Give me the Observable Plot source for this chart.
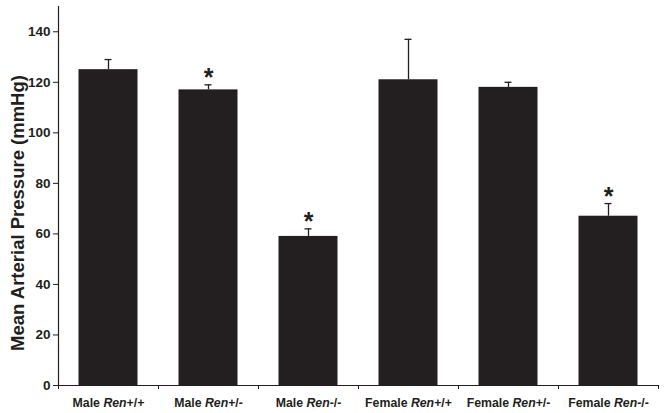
<!DOCTYPE html>
<html><head><meta charset="utf-8">
<script src="https://cdn.jsdelivr.net/npm/d3@7"></script>
<script src="https://cdn.jsdelivr.net/npm/@observablehq/plot@0.6"></script>
<style>body{margin:0;background:#fff} svg{display:block}</style>
</head><body><div id="chart"></div>
<script>
const sexes = ["Male", "Male", "Male", "Female", "Female", "Female"];
const genotypes = ["+/+", "+/-", "-/-", "+/+", "+/-", "-/-"];
const means = [125, 117, 59, 121, 118, 67];
const errors = [4, 2, 3, 16, 2, 5];
const significant = [false, true, true, false, false, true];
const yTicks = [0, 20, 40, 60, 80, 100, 120, 140];
const yLabel = "Mean Arterial Pressure (mmHg)";

const data = means.map((m, i) => ({i, sex: sexes[i], gen: genotypes[i], mean: m, err: errors[i], sig: significant[i]}));
const pad = 0.205;
const ink = "#231f20";

const chart = Plot.plot({
  width: 664, height: 413,
  marginLeft: 58, marginRight: 6, marginTop: 6, marginBottom: 28,
  style: {fontFamily: "'Liberation Sans', Arial, sans-serif", background: "#fff", color: ink},
  x: {domain: [0, data.length], axis: null},
  y: {domain: [0, 150], axis: null},
  marks: [
    Plot.rectY(data, {x1: d => d.i + pad, x2: d => d.i + 1 - pad, y1: 0, y2: "mean", fill: ink}),
    Plot.ruleX(data, {x: d => d.i + 0.5, y1: "mean", y2: d => d.mean + d.err, stroke: ink, strokeWidth: 1.3}),
    Plot.ruleY(data, {y: d => d.mean + d.err, x1: d => d.i + 0.5, x2: d => d.i + 0.5, insetLeft: -3.5, insetRight: -3.5, stroke: ink, strokeWidth: 1.3}),
    Plot.text(data.filter(d => d.sig), {x: d => d.i + 0.5, y: d => d.mean + d.err, dy: -7, text: () => "*", fontSize: 25, fontWeight: "bold", fill: ink}),
    Plot.axisY({ticks: yTicks, tickSize: 5, tickPadding: 3, fontSize: 13.5, fontWeight: "bold", label: null, stroke: ink}),
    Plot.axisX({ticks: d3.range(0, data.length + 1), tickSize: 4, tickFormat: () => "", label: null, stroke: ink}),
    Plot.ruleX([0], {stroke: ink, strokeWidth: 1.2}),
    Plot.ruleY([0], {stroke: ink, strokeWidth: 1.2}),
    Plot.text(data, {x: d => d.i + 0.5, y: 0, dy: 18, text: d => `${d.sex} Ren${d.gen}`, fontSize: 12.3, fontWeight: "bold", fill: ink, className: "xlab"}),
    Plot.text([yLabel], {frameAnchor: "left", textAnchor: "middle", dx: -40, dy: 17, rotate: -90, text: d => d, fontSize: 18.5, fontWeight: "bold", fill: ink})
  ]
});

d3.select(chart).selectAll("g.xlab text").each(function() {
  const t = d3.select(this);
  const s = t.text();
  const k = s.indexOf("Ren");
  t.text(null);
  t.append("tspan").text(s.slice(0, k));
  t.append("tspan").attr("font-style", "italic").text("Ren");
  t.append("tspan").text(s.slice(k + 3));
});

document.getElementById("chart").appendChild(chart);
</script>
</body></html>
